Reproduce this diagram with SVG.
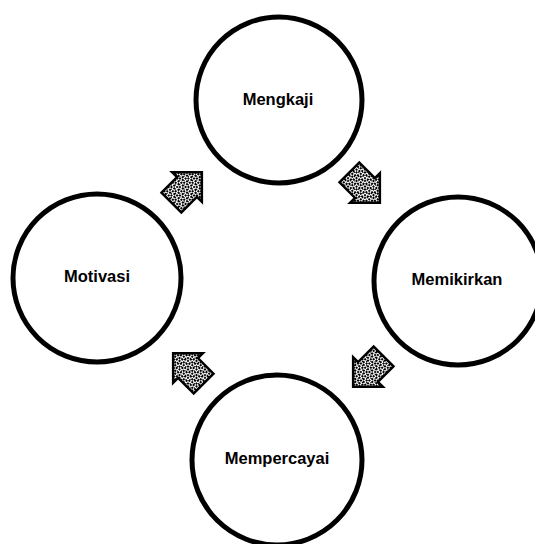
<svg xmlns="http://www.w3.org/2000/svg" width="535" height="544" viewBox="0 0 535 544">
<style>
.node circle{fill:#fff;stroke:#000;stroke-width:5}
.node text{font-family:"Liberation Sans",Arial,sans-serif;font-weight:bold;font-size:16.5px;text-anchor:middle;fill:#000}
.arrow{fill:url(#halftone);stroke:#000;stroke-width:2.5;stroke-linejoin:miter}
</style>
<defs>
<pattern id="halftone" width="6" height="6" patternUnits="userSpaceOnUse">
<rect width="6" height="6" fill="#fff"/>
<rect x="0" y="0" width="2" height="2" fill="#000"/>
<rect x="3" y="1" width="2" height="2" fill="#000"/>
<rect x="1" y="3" width="2" height="2" fill="#000"/>
<rect x="4" y="4" width="2" height="2" fill="#000"/>
<rect x="2" y="5" width="1" height="1" fill="#000"/>
<rect x="5" y="2" width="1" height="1" fill="#000"/>
</pattern>
<polygon id="blockArrow" points="-22,-14 0,-14 0,-21 21,0 0,21 0,14 -22,14"/>
</defs>
<g id="connectors">
<use href="#blockArrow" class="arrow" transform="translate(365,188) rotate(45)"/>
<use href="#blockArrow" class="arrow" transform="translate(368,372) rotate(135)"/>
<use href="#blockArrow" class="arrow" transform="translate(188,368) rotate(225)"/>
<use href="#blockArrow" class="arrow" transform="translate(187,187) rotate(-45)"/>
</g>
<g id="node-mengkaji" class="node">
<circle cx="279" cy="100" r="83"/>
<text x="278" y="105">Mengkaji</text>
</g>
<g id="node-memikirkan" class="node">
<circle cx="458" cy="281" r="84"/>
<text x="457" y="285">Memikirkan</text>
</g>
<g id="node-mempercayai" class="node">
<circle cx="277" cy="460" r="85"/>
<text x="277" y="464">Mempercayai</text>
</g>
<g id="node-motivasi" class="node">
<circle cx="97" cy="278" r="84"/>
<text x="97" y="282">Motivasi</text>
</g>
</svg>
